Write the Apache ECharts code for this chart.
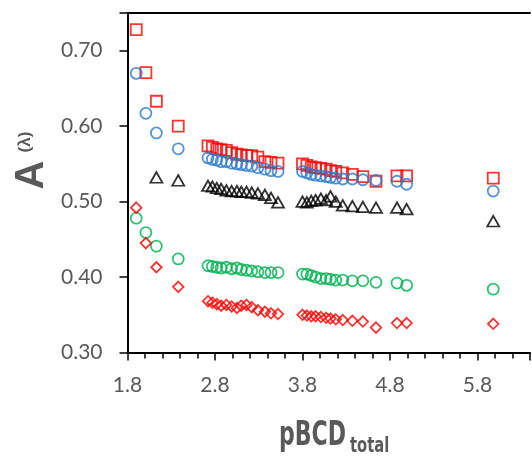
<!DOCTYPE html>
<html>
<head>
<meta charset="utf-8">
<script src="https://cdn.jsdelivr.net/npm/echarts@6/dist/echarts.min.js"></script>
<style>html,body{margin:0;padding:0;background:#fff;}#c{width:532px;height:456px;}</style>
</head>
<body>
<div id="c"></div>
<script>
const pbcd = [1.90, 2.01, 2.13, 2.38,
  2.72, 2.77, 2.82, 2.87, 2.93, 2.99, 3.05, 3.10, 3.16, 3.22, 3.29, 3.37, 3.44, 3.52,
  3.80, 3.85, 3.90, 3.95, 4.01, 4.07, 4.12, 4.18, 4.26, 4.37, 4.49, 4.64,
  4.88, 4.99, 5.98];
const redSquares = [0.728, 0.671, 0.633, 0.600,
  0.574, 0.572, 0.570, 0.569, 0.568, 0.565, 0.563, 0.562, 0.561, 0.561, 0.559, 0.553, 0.552, 0.551,
  0.550, 0.548, 0.546, 0.545, 0.544, 0.543, 0.541, 0.540, 0.538, 0.536, 0.533, 0.527,
  0.534, 0.534, 0.531];
const blueCircles = [0.670, 0.617, 0.591, 0.570,
  0.558, 0.556, 0.555, 0.553, 0.553, 0.551, 0.550, 0.549, 0.548, 0.547, 0.545, 0.543, 0.541, 0.540,
  0.540, 0.538, 0.536, 0.535, 0.534, 0.533, 0.532, 0.531, 0.530, 0.530, 0.529, 0.528,
  0.527, 0.523, 0.514];
const blackTriangles = [null, null, 0.532, 0.528,
  0.521, 0.520, 0.518, 0.517, 0.515, 0.514, 0.514, 0.513, 0.513, 0.512, 0.511, 0.509, 0.505, 0.499,
  0.500, 0.499, 0.501, 0.502, 0.504, 0.502, 0.507, 0.500, 0.495, 0.494, 0.493, 0.492,
  0.492, 0.490, 0.474];
const greenCircles = [0.478, 0.459, 0.441, 0.424,
  0.415, 0.414, 0.413, 0.412, 0.413, 0.411, 0.412, 0.410, 0.409, 0.408, 0.407, 0.406, 0.406, 0.406,
  0.404, 0.404, 0.402, 0.400, 0.398, 0.398, 0.397, 0.396, 0.396, 0.395, 0.395, 0.393,
  0.392, 0.389, 0.384];
const redDiamonds = [0.492, 0.445, 0.413, 0.387,
  0.368, 0.366, 0.364, 0.362, 0.363, 0.361, 0.359, 0.362, 0.363, 0.360, 0.356, 0.354, 0.352, 0.351,
  0.350, 0.349, 0.348, 0.348, 0.347, 0.346, 0.345, 0.344, 0.343, 0.342, 0.341, 0.333,
  0.339, 0.339, 0.338];
const xTicks = [1.8, 2.8, 3.8, 4.8, 5.8];
const yTicks = [0.30, 0.40, 0.50, 0.60, 0.70];

function pts(vals) {
  const out = [];
  pbcd.forEach((x, i) => { if (vals[i] != null) out.push([x, vals[i]]); });
  return out;
}
function mk(name, vals, symbol, size, color) {
  return {
    name, type: 'scatter', data: pts(vals), symbol, symbolSize: size,
    itemStyle: { color: 'rgba(0,0,0,0)', borderColor: color, borderWidth: 1.8 },
    emphasis: { disabled: true }, animation: false
  };
}
const chart = echarts.init(document.getElementById('c'), null, { renderer: 'canvas' });
const labelColor = '#595959';
chart.setOption({
  animation: false,
  backgroundColor: '#fff',
  grid: { left: 127.5, right: 2, top: 13, bottom: 103.5 },
  xAxis: [{
    type: 'value', min: 1.8, max: 6.4, interval: 1,
    axisLine: { show: true, onZero: false, lineStyle: { color: '#000', width: 2 } },
    axisTick: { show: true, length: 8, lineStyle: { color: '#000', width: 1.5 } },
    minorTick: { show: true, splitNumber: 5, length: 6, lineStyle: { color: '#000', width: 1.5 } },
    splitLine: { show: false },
    axisLabel: {
      margin: 22, color: labelColor, fontFamily: 'Lato', fontSize: 21,
      showMaxLabel: false,
      formatter: v => xTicks.some(t => Math.abs(t - v) < 1e-6) ? v.toFixed(1) : ''
    }
  }, {
    type: 'value', position: 'top', min: 1.8, max: 6.4,
    axisLine: { show: true, onZero: false, lineStyle: { color: '#000', width: 2 } },
    axisTick: { show: false }, axisLabel: { show: false }, splitLine: { show: false }
  }],
  yAxis: {
    type: 'value', min: 0.3, max: 0.75, interval: 0.1,
    axisLine: { show: true, onZero: false, lineStyle: { color: '#000', width: 2 } },
    axisTick: { show: true, length: 8, lineStyle: { color: '#000', width: 1.5 } },
    splitLine: { show: false },
    axisLabel: {
      margin: 25, color: labelColor, fontFamily: 'Lato', fontSize: 21,
      formatter: v => yTicks.some(t => Math.abs(t - v) < 1e-6) ? v.toFixed(2) : ''
    }
  },
  graphic: [
    { type: 'text', x: 32, y: 175, rotation: Math.PI / 2,
      style: { text: 'A', font: 'bold 40px "Liberation Sans"', fill: labelColor, textAlign: 'center', textVerticalAlign: 'middle' } },
    { type: 'text', x: 25, y: 142, rotation: Math.PI / 2,
      style: { text: '(λ)', font: 'bold 17px "Liberation Sans"', fill: labelColor, textAlign: 'center', textVerticalAlign: 'middle' } },
    { type: 'text', x: 279, y: 436, scaleX: 0.72,
      style: { text: 'pBCD', font: 'bold 34px "DejaVu Sans Condensed"', fill: labelColor, textAlign: 'left', textVerticalAlign: 'middle' } },
    { type: 'text', x: 350, y: 447, scaleX: 0.78,
      style: { text: 'total', font: 'bold 21px "DejaVu Sans Condensed"', fill: labelColor, textAlign: 'left', textVerticalAlign: 'middle' } }
  ],
  series: [
    mk('squares', redSquares, 'rect', 11, '#FF0000'),
    mk('blue', blueCircles, 'circle', 11, '#2B7BCB'),
    mk('triangles', blackTriangles, 'triangle', [12, 10.5], '#000000'),
    mk('green', greenCircles, 'circle', 11, '#00B050'),
    mk('diamonds', redDiamonds, 'diamond', 10.5, '#FF0000')
  ]
});
</script>
</body>
</html>
